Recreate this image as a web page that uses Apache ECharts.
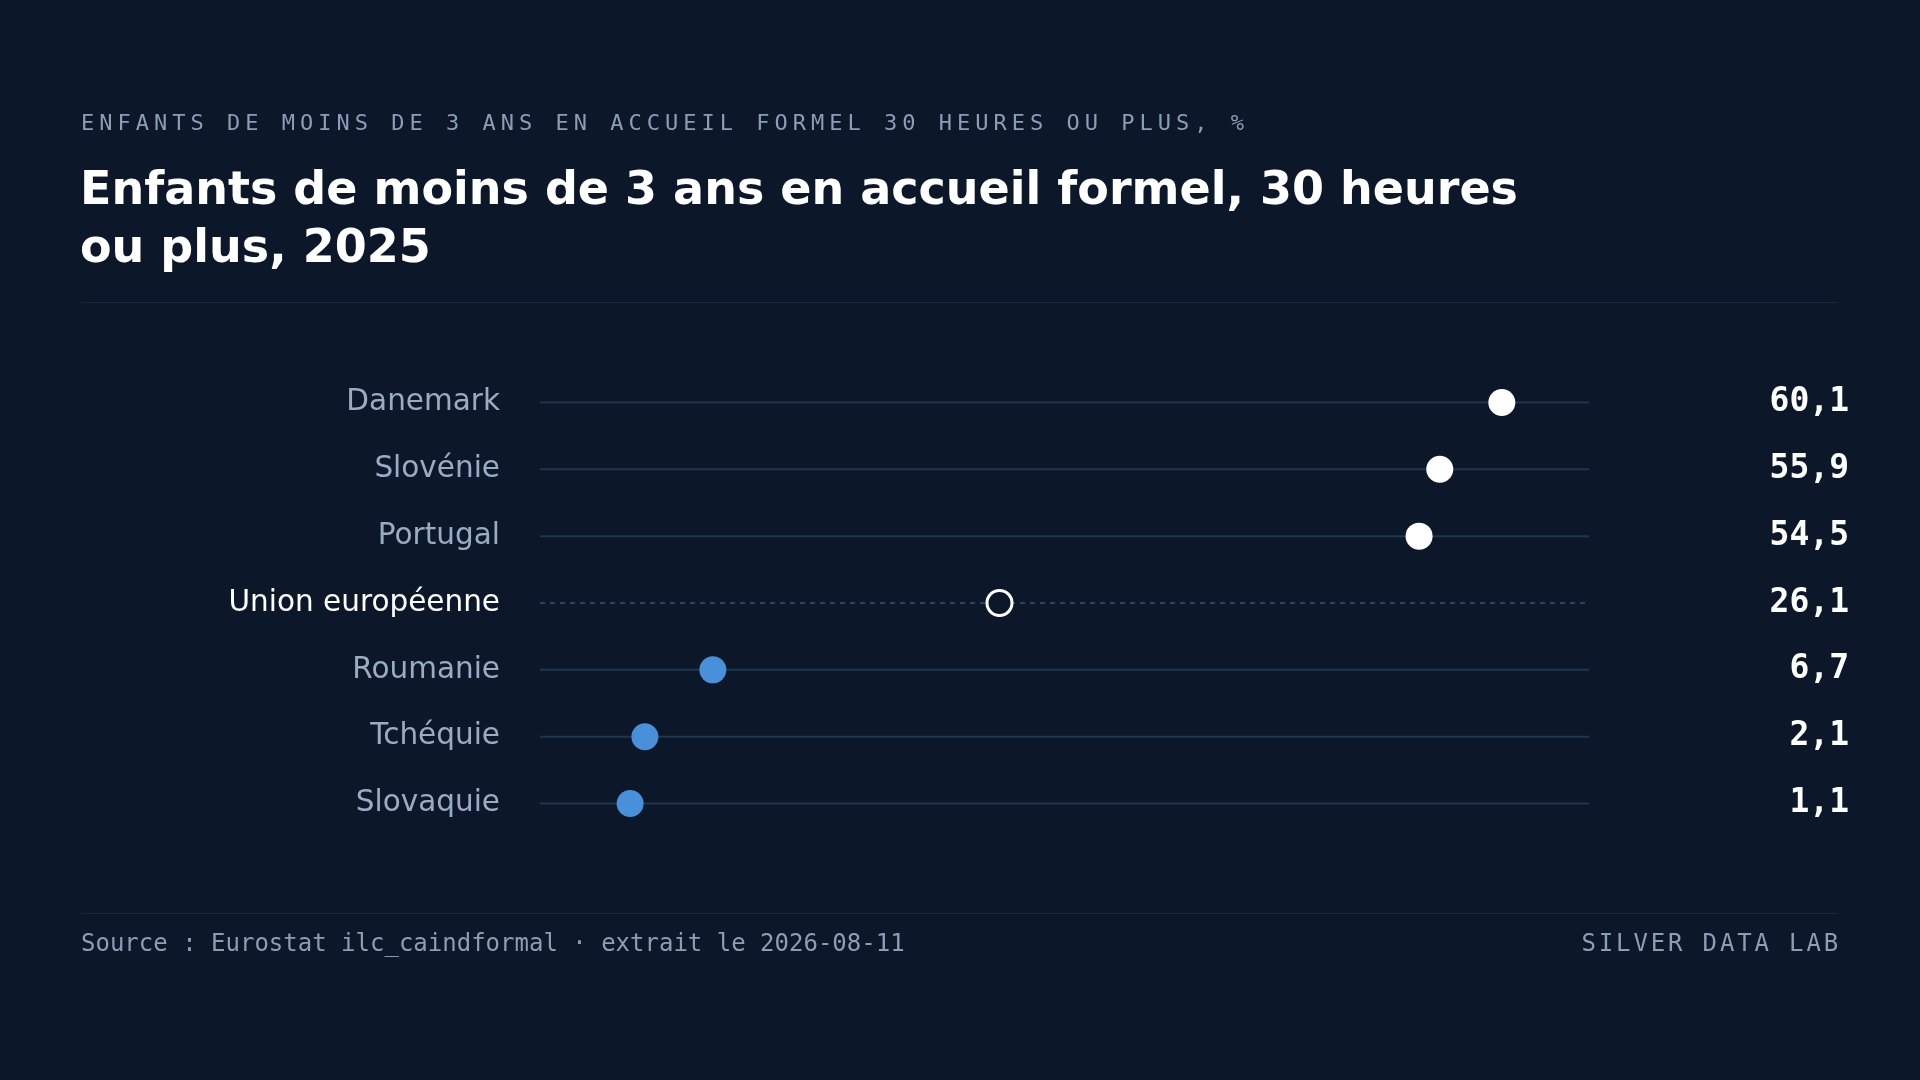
<!DOCTYPE html>
<html><head><meta charset="utf-8">
<script src="https://cdn.jsdelivr.net/npm/echarts@6/dist/echarts.min.js"></script>
<style>html,body{margin:0;background:#0c1829;}#c{width:1920px;height:1080px;}</style>
</head><body><div id="c"></div>
<script>
const categories = ['Danemark','Slovénie','Portugal','Union européenne','Roumanie','Tchéquie','Slovaquie'];
const values = [60.1, 55.9, 54.5, 26.1, 6.7, 2.1, 1.1];
const valueLabels = ['60,1','55,9','54,5','26,1','6,7','2,1','1,1'];
const EU = 'Union européenne';
const XMIN = -5, XMAX = 66;
const chart = echarts.init(document.getElementById('c'));
const mono = 'DejaVu Sans Mono';
function spaced(str, x, y, step, font, alignRight){
  const chars = str.split('');
  const x0 = alignRight ? x - step*chars.length : x;
  return {type:'group',children:chars.map((ch,i)=>({type:'text',x:x0+i*step,y:y,style:{text:ch,fill:'#8d9db6',font:font}}))};
}
chart.setOption({
  backgroundColor:'#0c1829',
  grid:{left:540,width:1049,top:369,height:468},
  xAxis:{type:'value',min:XMIN,max:XMAX,show:false},
  yAxis:{type:'category',data:categories,inverse:true,axisLine:{show:false},axisTick:{show:false},
    axisLabel:{margin:40,fontSize:29.5,fontFamily:'DejaVu Sans',
      color:(v)=>v===EU?'#ffffff':'#9aabc4'}},
  graphic:[
    spaced('ENFANTS DE MOINS DE 3 ANS EN ACCUEIL FORMEL 30 HEURES OU PLUS, %',81,113,18.25,'22px '+mono,false),
    {type:'text',left:80,top:163,style:{text:'Enfants de moins de 3 ans en accueil formel, 30 heures\nou plus, 2025',fill:'#ffffff',font:'bold 46px DejaVu Sans',lineHeight:58}},
    {type:'rect',shape:{x:81,y:302,width:1757,height:1},style:{fill:'#1a2a3e'}},
    {type:'rect',shape:{x:81,y:913,width:1757,height:1},style:{fill:'#1a2a3e'}},
    {type:'text',left:81,top:933,style:{text:'Source : Eurostat ilc_caindformal · extrait le 2026-08-11',fill:'#8d9db6',font:'24px '+mono}},
    spaced('SILVER DATA LAB',1841,933,17.3,'24px '+mono,true)
  ],
  series:[
    {type:'custom',data:categories.map((c,i)=>[i]),silent:true,z:1,
     renderItem:(p,api)=>{const i=api.value(0);const a=api.coord([XMIN,i]);const b=api.coord([XMAX,i]);
       const eu=categories[i]===EU;
       return {type:'group',children:[
         {type:'line',shape:{x1:a[0],y1:a[1],x2:b[0],y2:b[1]},style:{stroke:eu?'#2c4260':'#1f3550',lineWidth:2,lineDash:eu?[5,5]:null}},
         {type:'text',style:{x:1849,y:a[1],text:valueLabels[i],fill:'#ffffff',font:'bold 33px '+mono,align:'right',verticalAlign:'middle'}}
       ]};}},
    {type:'scatter',z:3,symbolSize:27,silent:true,
     data:values.map((v,i)=>{const c=categories[i];
       if(c===EU) return {value:[v,i],itemStyle:{color:'#0c1829',borderColor:'#ffffff',borderWidth:3,opacity:1},symbolSize:25};
       return {value:[v,i],itemStyle:{color:v>30?'#ffffff':'#4a8fd9',opacity:1}};})}
  ]
});
</script></body></html>
